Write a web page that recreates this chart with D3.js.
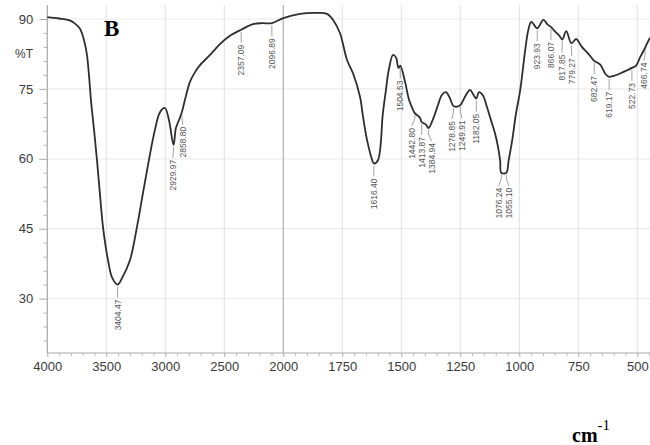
<!DOCTYPE html>
<html>
<head>
<meta charset="utf-8">
<script src="https://cdn.jsdelivr.net/npm/d3@7"></script>
<style>
  html, body { margin: 0; padding: 0; background: #fff; }
  svg { display: block; }
</style>
</head>
<body>
<svg id="chart" width="650" height="445"></svg>
<script>
// FTIR spectrum: wavenumber (cm-1) vs transmittance (%T)
const wavenumber = [
  4000, 3900, 3810, 3765, 3723, 3689, 3664, 3647, 3630, 3604, 3579, 3553, 3528, 3486, 3452,
  3404.47, 3367, 3299, 3240, 3189, 3139, 3088, 3045, 3003, 2969, 2929.97, 2910, 2876, 2858.80,
  2825, 2791, 2748, 2706, 2621, 2537, 2452, 2357.09, 2257, 2180, 2096.89, 2000,
  1929, 1857, 1815, 1789, 1760, 1730, 1705, 1675, 1662, 1645, 1625, 1616.40, 1599, 1578, 1565,
  1553, 1535, 1522, 1512, 1504.53, 1484, 1467, 1450, 1442.80, 1421, 1413.87, 1395, 1384.94,
  1362, 1345, 1328, 1311, 1294, 1278.85, 1262, 1249.91, 1226, 1209, 1195, 1182.05, 1171, 1154,
  1137, 1120, 1103, 1090, 1081, 1076.24, 1055.10, 1045, 1030, 1015, 996, 975, 962, 949,
  923.93, 898, 880, 866.07, 850, 830, 817.85, 801, 779.27, 759, 735, 712, 691, 682.47, 657,
  635, 619.17, 600, 573, 543, 522.73, 505, 488, 470, 458, 446
];
const transmittance = [
  90.4, 90.1, 89.7, 89.0, 87.9, 85.5, 82.3, 78.0, 72.6, 66.2, 59.7, 52.2, 45.4, 38.3, 34.6,
  33.0, 34.4, 38.3, 45.4, 52.7, 59.7, 66.2, 70.0, 70.9, 68.3, 63.0, 66.6, 68.8, 70.1,
  73.5, 76.5, 78.6, 80.1, 82.3, 84.6, 86.4, 87.7, 88.9, 89.1, 89.1, 90.2,
  91.1, 91.3, 91.1, 89.8, 87.0, 81.2, 78.4, 73.3, 69.0, 64.0, 60.0, 59.0, 59.7, 69.8, 74.8,
  79.1, 82.3, 81.7, 79.5, 80.0, 76.5, 72.6, 70.5, 69.8, 68.8, 67.9, 67.3, 66.6,
  69.0, 71.5, 73.7, 74.3, 73.0, 71.3, 71.2, 71.5, 73.7, 74.8, 73.8, 72.9, 74.3, 73.6,
  71.1, 68.3, 65.5, 62.5, 59.5, 57.0, 57.0, 59.7, 64.0, 69.4, 74.8, 83.3, 87.6, 89.4,
  88.0, 89.8, 88.8, 88.3, 87.4, 86.4, 85.6, 87.4, 84.8, 85.7, 84.0, 82.8, 81.5, 81.0, 80.2,
  78.2, 77.6, 77.8, 78.3, 79.0, 79.5, 80.0, 81.8, 83.5, 84.8, 86.0
];
const peakLabels = [
  "3404.47", "2929.97", "2858.80", "2357.09", "2096.89", "1616.40", "1504.53", "1442.80",
  "1413.87", "1384.94", "1278.85", "1249.91", "1182.05", "1076.24", "1055.10", "923.93",
  "866.07", "817.85", "779.27", "682.47", "619.17", "522.73", "466.74"
];
const xTicks = [4000, 3500, 3000, 2500, 2000, 1750, 1500, 1250, 1000, 750, 500];
const yTicks = [30, 45, 60, 75, 90];

const svg = d3.select("#chart");
const W = 650, H = 445;
const plotTop = 5, plotBottom = 353, plotLeft = 47.3;

// split scale: 4000-2000 compressed, 2000-400 expanded twofold
const x = d3.scaleLinear()
  .domain([4000, 2000, 400])
  .range([plotLeft, 283.3, 283.3 + 1600 * 0.236]);
const y = d3.scaleLinear()
  .domain([18.33, 93])
  .range([plotBottom, plotTop]);

// grid
const grid = svg.append("g");
grid.selectAll("line.h").data(yTicks).join("line")
  .attr("x1", plotLeft).attr("x2", W)
  .attr("y1", d => y(d)).attr("y2", d => y(d))
  .attr("stroke", "#ececec").attr("stroke-width", 1.2);
grid.selectAll("line.v").data(xTicks.filter(d => d !== 4000)).join("line")
  .attr("x1", d => x(d)).attr("x2", d => x(d))
  .attr("y1", plotTop).attr("y2", plotBottom)
  .attr("stroke", d => d === 2000 ? "#b8b8b8" : "#e2e2e2")
  .attr("stroke-width", d => d === 2000 ? 1.3 : 1);

// axes
const minorX = d3.range(4000, 2000, -100).concat(d3.range(2000, 449, -50))
  .filter(d => !xTicks.includes(d));
const minorY = d3.range(21, 93, 3).filter(d => !yTicks.includes(d));

const styleAxis = g => {
  g.select(".domain").attr("stroke", "#aaa").attr("stroke-width", 1.2);
  g.selectAll(".tick line").attr("stroke", "#aaa");
  g.selectAll(".tick text")
    .attr("fill", "#3a3a3a")
    .style("font-family", "'Liberation Sans', Arial, sans-serif")
    .style("font-size", "13px");
};

svg.append("g")
  .attr("transform", `translate(0,${plotBottom})`)
  .call(d3.axisBottom(x).tickValues(minorX).tickSize(3).tickFormat(""))
  .call(g => { g.select(".domain").remove(); g.selectAll("line").attr("stroke", "#bbb"); });
svg.append("g")
  .attr("transform", `translate(0,${plotBottom})`)
  .call(d3.axisBottom(x).tickValues(xTicks).tickSize(4).tickPadding(5).tickFormat(d3.format("d")))
  .call(styleAxis)
  .call(g => g.select(".domain").attr("d", `M${plotLeft},0H${W}`));

svg.append("g")
  .attr("transform", `translate(${plotLeft},0)`)
  .call(d3.axisLeft(y).tickValues(minorY).tickSize(4).tickFormat(""))
  .call(g => { g.select(".domain").remove(); g.selectAll("line").attr("stroke", "#bbb"); });
svg.append("g")
  .attr("transform", `translate(${plotLeft},0)`)
  .call(d3.axisLeft(y).tickValues(yTicks).tickSize(8).tickPadding(6))
  .call(styleAxis)
  .call(g => g.select(".domain").attr("d", `M0,${plotTop}V${plotBottom}`));

svg.append("text")
  .attr("x", 33).attr("y", 58).attr("text-anchor", "end")
  .attr("fill", "#3a3a3a")
  .style("font-family", "'Liberation Sans', Arial, sans-serif")
  .style("font-size", "12px")
  .text("%T");

// spectrum
const points = wavenumber.map((w, i) => [w, transmittance[i]]);
svg.append("path")
  .datum(points)
  .attr("fill", "none")
  .attr("stroke", "#2e2e2e")
  .attr("stroke-width", 1.8)
  .attr("stroke-linejoin", "round")
  .attr("d", d3.line().x(d => x(d[0])).y(d => y(d[1])).curve(d3.curveCatmullRom.alpha(0.5)));

// peak labels hanging below the curve
const asc = points.slice().sort((a, b) => a[0] - b[0]);
const tAt = w => {
  const i = d3.bisector(d => d[0]).left(asc, w);
  if (i <= 0) return asc[0][1];
  if (i >= asc.length) return asc[asc.length - 1][1];
  const a = asc[i - 1], b = asc[i];
  return a[1] + (b[1] - a[1]) * (w - a[0]) / (b[0] - a[0]);
};
const peaks = peakLabels.map(s => {
  const w = +s;
  return { text: s, px: x(w), py: y(tAt(w)), lx: x(w) };
}).sort((a, b) => a.px - b.px);

// spread neighbouring labels apart and keep them inside the frame
const minGap = 10;
for (let iter = 0; iter < 50; iter++) {
  let moved = false;
  for (let i = 1; i < peaks.length; i++) {
    const gap = peaks[i].lx - peaks[i - 1].lx;
    if (gap < minGap) {
      const d = (minGap - gap) / 2;
      peaks[i - 1].lx -= d; peaks[i].lx += d; moved = true;
    }
  }
  if (!moved) break;
}
peaks.forEach(p => { p.lx = Math.min(p.lx, W - 6); });

const lab = svg.append("g");
peaks.forEach(p => {
  const textTop = p.py + 15;
  lab.append("path")
    .attr("d", `M${p.px},${p.py + 2}L${p.px},${p.py + 6}L${p.lx},${textTop - 2}`)
    .attr("fill", "none").attr("stroke", "#8a8a8a").attr("stroke-width", 0.8);
  lab.append("text")
    .attr("transform", `translate(${p.lx},${textTop}) rotate(-90)`)
    .attr("text-anchor", "end")
    .attr("dy", "0.35em")
    .attr("fill", "#555")
    .style("font-family", "'Liberation Sans', Arial, sans-serif")
    .style("font-size", "8.5px")
    .text(p.text);
});

// panel letter and unit
svg.append("text")
  .attr("x", 104).attr("y", 36)
  .style("font-family", "'Liberation Serif', 'Times New Roman', serif")
  .style("font-weight", "bold").style("font-size", "23px")
  .attr("fill", "#000")
  .text("B");

const unit = svg.append("text")
  .attr("x", 572).attr("y", 442)
  .style("font-family", "'Liberation Serif', 'Times New Roman', serif")
  .style("font-weight", "bold").style("font-size", "20px")
  .attr("fill", "#000");
unit.append("tspan").text("cm");
unit.append("tspan").attr("dy", -12).style("font-size", "15px").style("font-weight", "normal").text("-1");
</script>
</body>
</html>
